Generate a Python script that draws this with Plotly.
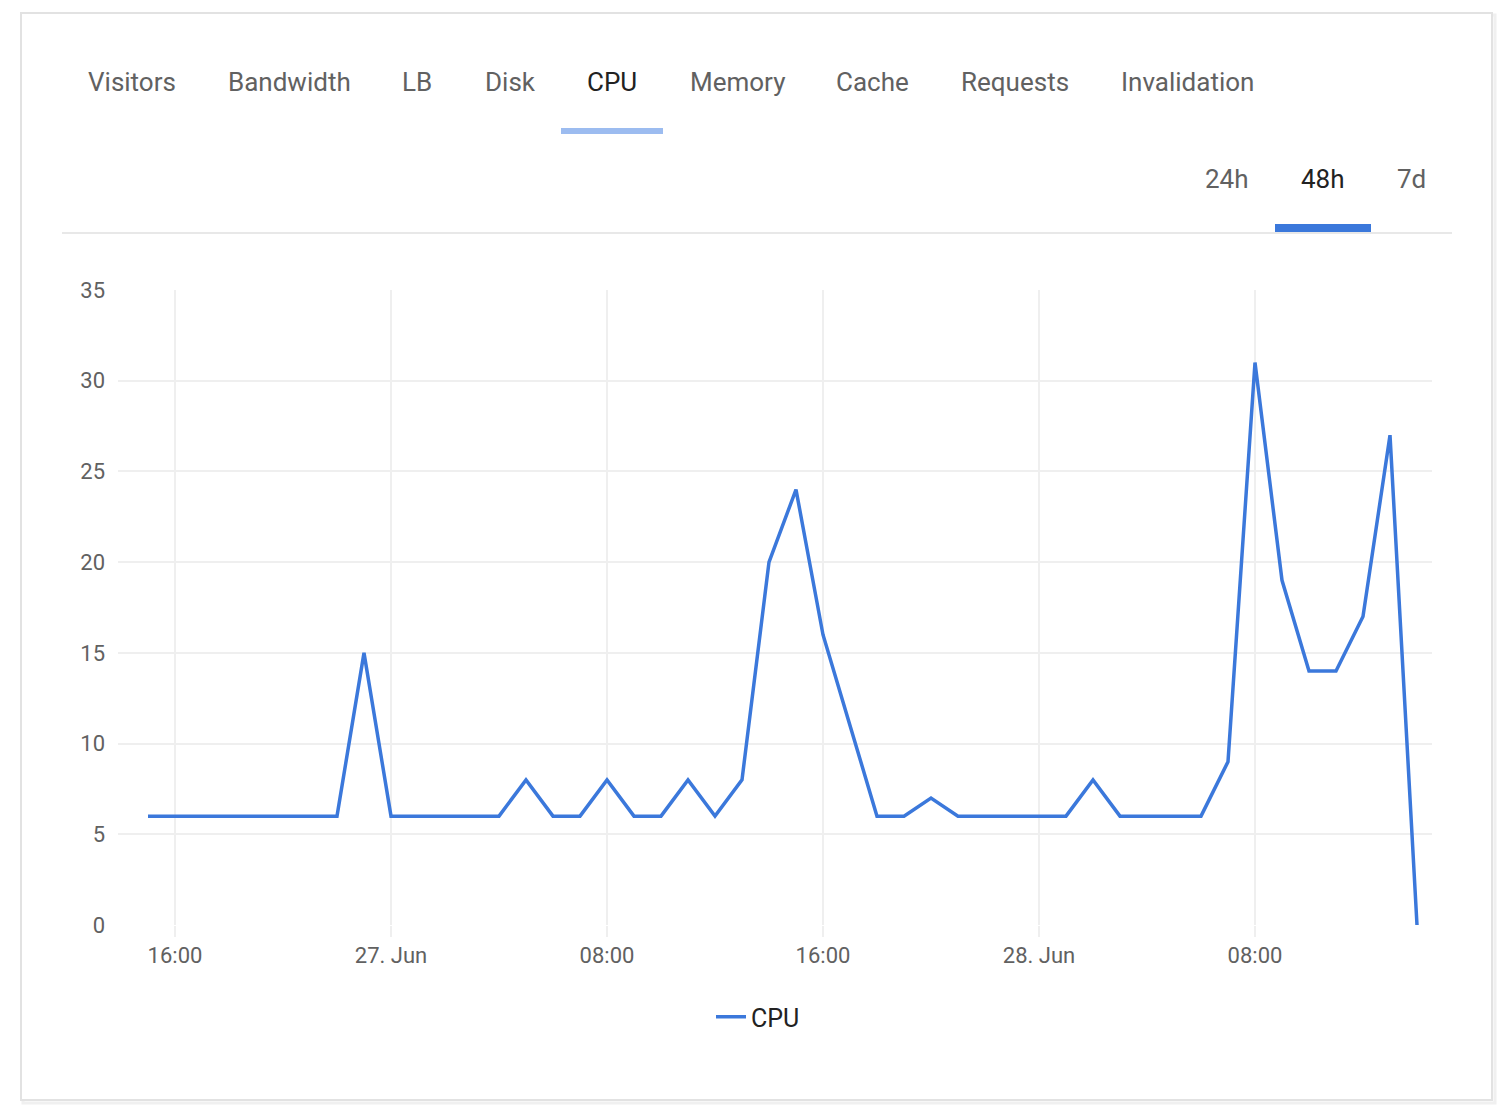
import pandas as pd
import plotly.graph_objects as go

# hourly CPU samples, 26 Jun 15:00 -> 28 Jun 14:00
start_time = "2020-06-26 15:00"
cpu_values = [
    6, 6, 6, 6, 6, 6, 6, 6, 15, 6,
    6, 6, 6, 6, 8, 6, 6, 8, 6, 6,
    8, 6, 8, 20, 24, 16, 11, 6, 6, 7,
    6, 6, 6, 6, 6, 8, 6, 6, 6, 6,
    9, 31, 19, 14, 14, 17, 27, 0,
]
tick_times = ["2020-06-26 16:00", "2020-06-27 00:00", "2020-06-27 08:00",
              "2020-06-27 16:00", "2020-06-28 00:00", "2020-06-28 08:00"]
tick_labels = ["16:00", "27. Jun", "08:00", "16:00", "28. Jun", "08:00"]
y_ticks = [0, 5, 10, 15, 20, 25, 30, 35]

tabs = ["Visitors", "Bandwidth", "LB", "Disk", "CPU", "Memory", "Cache", "Requests", "Invalidation"]
tab_x = [132, 289, 417, 510, 612, 737, 872, 1015, 1187]
ranges = ["24h", "48h", "7d"]
range_x = [1227, 1323, 1411]

times = pd.date_range(start_time, periods=len(cpu_values), freq="h")

# page body has an 8px margin, so work in page pixels and shift
OFF = 8
W, H = 1512 - 2 * OFF, 1116 - 2 * OFF
L, R, T, B = 118, 1432, 290, 925
BLUE = "#3b78db"
GREY = "#616161"


def xp(px):
    return (px - L) / (R - L)


def yp(py):
    return (B - py) / (B - T)


fig = go.Figure()
fig.add_trace(go.Scatter(x=times, y=cpu_values, mode="lines", name="CPU",
                         line=dict(color=BLUE, width=3.5)))

x_lo = times[0] - pd.Timedelta(hours=(148 - L) / 27)
x_hi = times[-1] + pd.Timedelta(hours=(R - 1417) / 27)

fig.update_xaxes(range=[x_lo, x_hi], tickvals=pd.to_datetime(tick_times), ticktext=tick_labels,
                 showgrid=True, gridcolor="#efefef", gridwidth=1.5, ticks="outside", ticklen=11,
                 tickcolor="#efefef", tickwidth=1.5, zeroline=False, showline=False,
                 tickfont=dict(family="Roboto", size=22, color=GREY))
fig.update_yaxes(range=[0, 35], tickvals=y_ticks, showgrid=True, gridcolor="#efefef", gridwidth=1.5,
                 zeroline=False, showline=False, ticks="", ticklabelstandoff=12,
                 tickfont=dict(family="Roboto", size=22, color=GREY))

# card + header separators
shapes = [
    dict(type="rect", xref="paper", yref="paper", x0=xp(23), x1=xp(1495), y0=yp(15), y1=yp(1103),
         line=dict(color="#f0f0f0", width=3), fillcolor="rgba(0,0,0,0)", layer="below"),
    dict(type="rect", xref="paper", yref="paper", x0=xp(21), x1=xp(1492), y0=yp(13), y1=yp(1100),
         line=dict(color="#e2e2e2", width=2), fillcolor="white", layer="below"),
    dict(type="line", xref="paper", yref="paper", x0=xp(62), x1=xp(1452), y0=yp(233), y1=yp(233),
         line=dict(color="#e8e8e8", width=2)),
    dict(type="rect", xref="paper", yref="paper", x0=xp(561), x1=xp(663), y0=yp(128), y1=yp(134),
         line=dict(width=0), fillcolor="#9cbcf0"),
    dict(type="rect", xref="paper", yref="paper", x0=xp(1275), x1=xp(1371), y0=yp(224), y1=yp(232),
         line=dict(width=0), fillcolor=BLUE),
]

annotations = []
for name, cx in zip(tabs, tab_x):
    annotations.append(dict(text=name, x=xp(cx), y=yp(82), xref="paper", yref="paper", showarrow=False,
                            xanchor="center", yanchor="middle",
                            font=dict(family="Roboto", size=26, color="#222222" if name == "CPU" else GREY)))
for name, cx in zip(ranges, range_x):
    annotations.append(dict(text=name, x=xp(cx), y=yp(179), xref="paper", yref="paper", showarrow=False,
                            xanchor="center", yanchor="middle",
                            font=dict(family="Roboto", size=26, color="#222222" if name == "48h" else GREY)))

fig.update_layout(
    width=W, height=H,
    margin=dict(l=L - OFF, r=W - (R - OFF), t=T - OFF, b=H - (B - OFF)),
    plot_bgcolor="white", paper_bgcolor="white",
    showlegend=True,
    legend=dict(orientation="h", x=xp(758), y=yp(1017), xanchor="center", yanchor="middle",
                font=dict(family="Roboto", size=25, color="#222222")),
    shapes=shapes, annotations=annotations,
)

fig.write_html("out.html")
